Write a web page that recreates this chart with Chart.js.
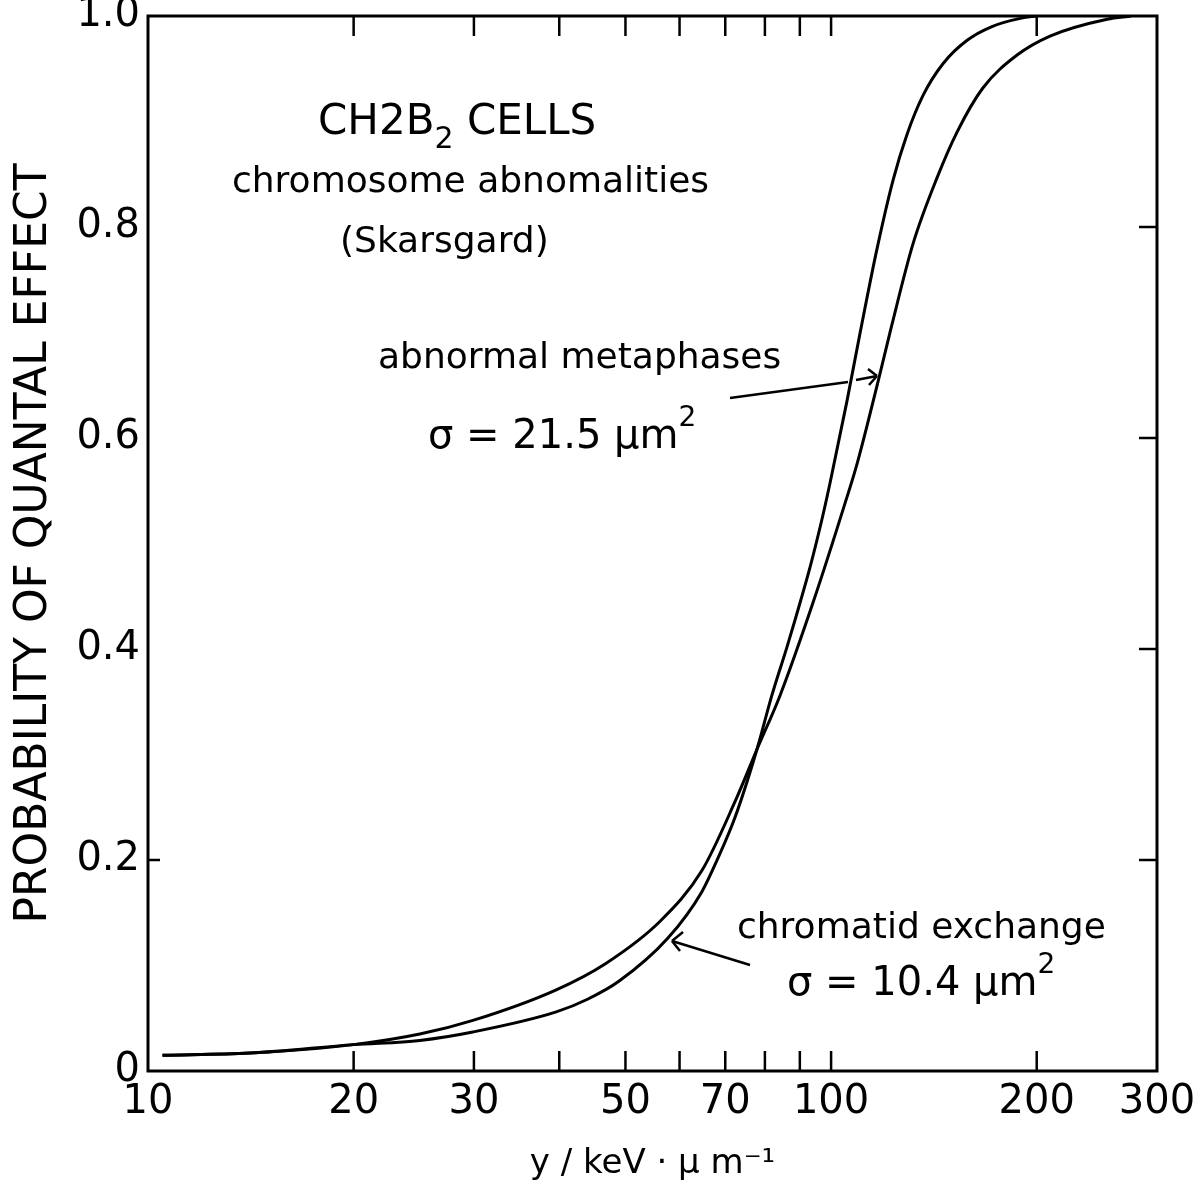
<!DOCTYPE html>
<html>
<head>
<meta charset="utf-8">
<title>Probability of quantal effect</title>
<script src="https://cdn.jsdelivr.net/npm/chart.js@4.4.0/dist/chart.umd.min.js"></script>
<style>
  body { margin: 0; background: #fff; }
  canvas { display: block; }
</style>
</head>
<body>
<canvas id="grafico" width="1203" height="1197"></canvas>
<script>
// ticks do eixo x (log) e rótulos
const xTicks = [10, 20, 30, 40, 50, 60, 70, 80, 90, 100, 200, 300];
const xRotulados = [10, 20, 30, 50, 70, 100, 200, 300];
const yTicks = [0, 0.2, 0.4, 0.6, 0.8, 1.0];
const yRotulos = ['0', '0.2', '0.4', '0.6', '0.8', '1.0'];

// abnormal metaphases, sigma = 21.5 um^2 (curva mais suave)
const xMetafases = [10.5, 14.1, 20, 25, 29.9, 39.6, 46.8, 56.2, 64.7, 72.3, 77.9, 84.2, 94.1, 104.8, 109.2, 117.2, 122.5, 131.8, 143, 152.9, 166.9, 187.2, 209.2, 253.6, 275];
const yMetafases = [0.015, 0.017, 0.025, 0.035, 0.048, 0.077, 0.102, 0.142, 0.190, 0.255, 0.305, 0.356, 0.444, 0.538, 0.576, 0.654, 0.705, 0.784, 0.847, 0.890, 0.932, 0.963, 0.981, 0.997, 1.0];

// chromatid exchange, sigma = 10.4 um^2 (curva mais íngreme)
const xCromatide = [10.5, 14.1, 20, 25, 29.9, 39.6, 44, 48.9, 57.7, 64.7, 68.1, 72.3, 77.9, 81.9, 86.2, 88.6, 93.2, 97.3, 99.7, 105.5, 110.3, 116.8, 123.3, 129.2, 136.4, 145.9, 158.2, 172, 190, 200];
const yCromatide = [0.015, 0.017, 0.025, 0.029, 0.037, 0.056, 0.068, 0.085, 0.126, 0.170, 0.200, 0.240, 0.305, 0.356, 0.402, 0.428, 0.478, 0.527, 0.558, 0.635, 0.700, 0.780, 0.845, 0.888, 0.925, 0.955, 0.977, 0.990, 0.998, 1.0];

const fonte = '"DejaVu Sans", sans-serif';
const pontos = (xs, ys) => xs.map((x, i) => ({ x: x, y: ys[i] }));

// escreve texto com partes de tamanhos diferentes (índices / expoentes)
function escreve(ctx, x, y, partes) {
    let cx = x;
    partes.forEach(p => {
        ctx.font = `${p.tam}px ${fonte}`;
        ctx.fillText(p.txt, cx, y + (p.dy || 0));
        cx += ctx.measureText(p.txt).width;
    });
}

function linha(ctx, x1, y1, x2, y2) {
    ctx.beginPath();
    ctx.moveTo(x1, y1);
    ctx.lineTo(x2, y2);
    ctx.stroke();
}

// moldura, ticks para dentro e anotações
const pluginMoldura = {
    id: 'moldura',
    afterDraw(chart) {
        const ctx = chart.ctx;
        const a = chart.chartArea;
        const sx = chart.scales.x;
        const sy = chart.scales.y;
        ctx.save();
        ctx.strokeStyle = '#000';
        ctx.fillStyle = '#000';
        ctx.lineWidth = 3;
        ctx.strokeRect(a.left, a.top, a.right - a.left, a.bottom - a.top);

        ctx.lineWidth = 2.5;
        xTicks.slice(1, -1).forEach(v => {
            const px = sx.getPixelForValue(v);
            linha(ctx, px, a.bottom, px, a.bottom - 20);
            linha(ctx, px, a.top, px, a.top + 20);
        });
        yTicks.slice(1, -1).forEach(v => {
            const py = sy.getPixelForValue(v);
            linha(ctx, a.right, py, a.right - 18, py);
        });
        const py2 = sy.getPixelForValue(0.2);
        linha(ctx, a.left, py2, a.left + 12, py2);

        // textos
        ctx.textBaseline = 'alphabetic';
        ctx.textAlign = 'left';
        escreve(ctx, 318, 134, [{ txt: 'CH2B', tam: 42 }, { txt: '2', tam: 30, dy: 14 }, { txt: ' CELLS', tam: 42 }]);
        escreve(ctx, 232, 192, [{ txt: 'chromosome abnomalities', tam: 36 }]);
        escreve(ctx, 340, 252, [{ txt: '(Skarsgard)', tam: 36 }]);
        escreve(ctx, 378, 368, [{ txt: 'abnormal metaphases', tam: 36 }]);
        escreve(ctx, 428, 448, [{ txt: 'σ = 21.5 μm', tam: 40 }, { txt: '2', tam: 28, dy: -22 }]);
        escreve(ctx, 737, 938, [{ txt: 'chromatid exchange', tam: 36 }]);
        escreve(ctx, 787, 995, [{ txt: 'σ = 10.4 μm', tam: 40 }, { txt: '2', tam: 28, dy: -22 }]);

        // setas
        ctx.lineWidth = 2.5;
        linha(ctx, 730, 398, 848, 382);
        linha(ctx, 856, 380, 877, 376);
        linha(ctx, 868, 369, 877, 376);
        linha(ctx, 869, 385, 877, 376);

        linha(ctx, 750, 965, 672, 941);
        linha(ctx, 672, 941, 683, 932);
        linha(ctx, 672, 941, 680, 951);
        ctx.restore();
    }
};

const conjunto = (rotulo, xs, ys) => ({
    label: rotulo,
    data: pontos(xs, ys),
    borderColor: '#000',
    borderWidth: 3,
    pointRadius: 0,
    fill: false,
    cubicInterpolationMode: 'monotone'
});

new Chart(document.getElementById('grafico'), {
    type: 'line',
    data: {
        datasets: [
            conjunto('abnormal metaphases', xMetafases, yMetafases),
            conjunto('chromatid exchange', xCromatide, yCromatide)
        ]
    },
    plugins: [pluginMoldura],
    options: {
        responsive: false,
        animation: false,
        layout: { padding: { top: 16, right: 46, left: 0, bottom: 0 } },
        plugins: { legend: { display: false }, tooltip: { enabled: false } },
        scales: {
            x: {
                type: 'logarithmic',
                min: 10,
                max: 300,
                grid: { display: false, drawTicks: false },
                border: { display: false },
                afterBuildTicks: (s) => { s.ticks = xTicks.map(v => ({ value: v })); },
                afterFit: (s) => { s.height = 126; s.paddingLeft = 0; s.paddingRight = 0; },
                ticks: {
                    autoSkip: false,
                    maxRotation: 0,
                    padding: 8,
                    color: '#000',
                    font: { family: fonte, size: 40 },
                    callback: (v) => xRotulados.includes(v) ? String(v) : ''
                },
                title: {
                    display: true,
                    text: 'y / keV · μ m⁻¹',
                    color: '#000',
                    font: { family: fonte, size: 34 },
                    padding: { top: 0, bottom: 12 }
                }
            },
            y: {
                min: 0,
                max: 1,
                grid: { display: false, drawTicks: false },
                border: { display: false },
                afterBuildTicks: (s) => { s.ticks = yTicks.map(v => ({ value: v })); },
                afterFit: (s) => { s.width = 148; s.paddingTop = 0; s.paddingBottom = 0; },
                ticks: {
                    padding: 8,
                    color: '#000',
                    font: { family: fonte, size: 40 },
                    callback: (v, i) => yRotulos[i]
                },
                title: {
                    display: true,
                    text: 'PROBABILITY OF QUANTAL EFFECT',
                    color: '#000',
                    font: { family: fonte, size: 44 },
                    padding: { top: 8, bottom: 0 }
                }
            }
        }
    }
});
</script>
</body>
</html>
